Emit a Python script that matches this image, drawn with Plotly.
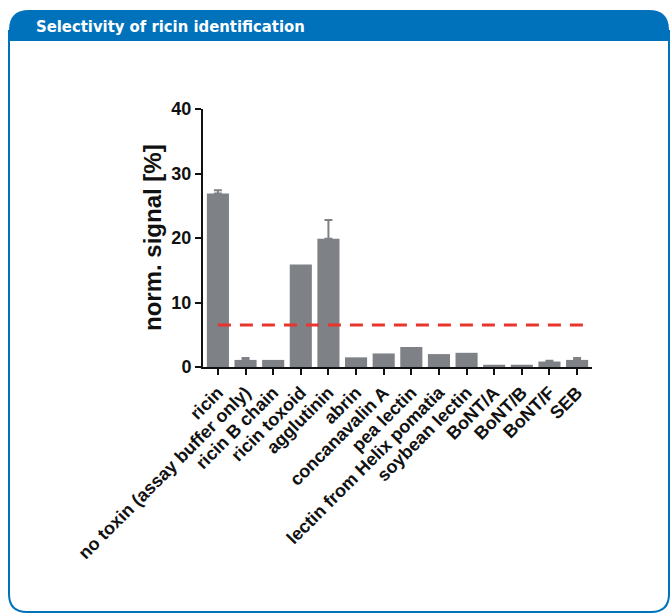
import plotly.graph_objects as go

# Assay signal per sample, normalised to the reference (%)
samples = [
    "ricin", "no toxin (assay buffer only)", "ricin B chain", "ricin toxoid",
    "agglutinin", "abrin", "concanavalin A", "pea lectin",
    "lectin from Helix pomatia", "soybean lectin", "BoNT/A", "BoNT/B",
    "BoNT/F", "SEB",
]
signal = [26.9, 1.1, 1.1, 15.9, 19.9, 1.5, 2.1, 3.1, 2.0, 2.2, 0.35, 0.35, 0.85, 1.1]
# upper error (SD) for the samples that carry one
err_samples = ["ricin", "no toxin (assay buffer only)", "agglutinin", "BoNT/F", "SEB"]
err_plus = [0.5, 0.3, 2.9, 0.1, 0.3]
threshold = 6.5
y_ticks = [0, 10, 20, 30, 40]

W, H = 670, 614
PLOT_L, PLOT_R, PLOT_T, PLOT_B = 203, 592, 109, 367

BLUE = "#0072bc"
BAR = "#7e8185"
INK = "#111111"


def fx(x):
    return (x - PLOT_L) / (PLOT_R - PLOT_L)


def fy(y):
    return (PLOT_B - y) / (PLOT_B - PLOT_T)


def path(cmds):
    out = []
    for c in cmds:
        if isinstance(c, str):
            out.append(c)
        else:
            out.append(f"{fx(c[0]):.5f},{fy(c[1]):.5f}")
    return " ".join(out)


err_means = [signal[samples.index(s)] for s in err_samples]

fig = go.Figure()
fig.add_trace(go.Bar(
    x=samples,
    y=signal,
    marker=dict(color=BAR, line=dict(width=0)),
    showlegend=False,
))
fig.add_trace(go.Scatter(
    x=err_samples, y=err_means, mode="markers",
    marker=dict(size=1, opacity=0),
    error_y=dict(type="data", array=err_plus, arrayminus=[0] * len(err_plus),
                 symmetric=False, color=BAR, thickness=2, width=4),
    showlegend=False, hoverinfo="skip",
))

# Header band and frame
header = path(["M", (9, 41), "L", (9, 30), "Q", (9, 10), (29, 10), "L", (649, 10),
               "Q", (669, 10), (669, 30), "L", (669, 41), "Z"])
frame = path(["M", (9, 30), "L", (9, 594), "Q", (9, 612), (27, 612), "L", (651, 612),
              "Q", (669, 612), (669, 594), "L", (669, 30)])

shapes = [
    dict(type="path", xref="paper", yref="paper", path=header,
         fillcolor=BLUE, line=dict(width=0), layer="below"),
    dict(type="path", xref="paper", yref="paper", path=frame,
         line=dict(color=BLUE, width=2), layer="below"),
    dict(type="line", xref="x", yref="y", x0=0, x1=13.4, y0=threshold, y1=threshold,
         line=dict(color="#e8352e", width=3, dash="13px,9px"), layer="above"),
]

fig.update_layout(
    width=W, height=H,
    margin=dict(l=PLOT_L, r=W - PLOT_R, t=PLOT_T, b=H - PLOT_B, pad=0),
    paper_bgcolor="white", plot_bgcolor="white",
    bargap=0.2,
    shapes=shapes,
    font=dict(family="Liberation Sans, Arial, sans-serif", color=INK),
    xaxis=dict(
        categoryorder="array", categoryarray=samples,
        range=[-0.54, 13.54], showline=True, linecolor=INK, linewidth=2,
        ticks="outside", ticklen=6, tickwidth=2, tickcolor=INK,
        tickangle=-45, tickfont=dict(size=18, family="Liberation Sans", weight="bold"),
        showgrid=False, zeroline=False,
    ),
    yaxis=dict(
        range=[0, 40], tickvals=y_ticks, showline=True, linecolor=INK, linewidth=2,
        ticks="outside", ticklen=6, tickwidth=2, tickcolor=INK,
        tickfont=dict(size=18, family="Liberation Sans", weight="bold"),
        showgrid=False, zeroline=False,
    ),
    annotations=[
        dict(text="<b>Selectivity of ricin identification</b>", xref="paper", yref="paper",
             x=fx(34), y=fy(26), xanchor="left", yanchor="middle", showarrow=False,
             font=dict(size=16.5, color="white", family="DejaVu Sans Condensed, sans-serif")),
        dict(text="<b>norm. signal [%]</b>", xref="paper", yref="paper",
             x=fx(152), y=fy(238), xanchor="center", yanchor="middle", textangle=-90,
             showarrow=False, font=dict(size=24, color=INK)),
    ],
)

fig.write_html("out.html")
